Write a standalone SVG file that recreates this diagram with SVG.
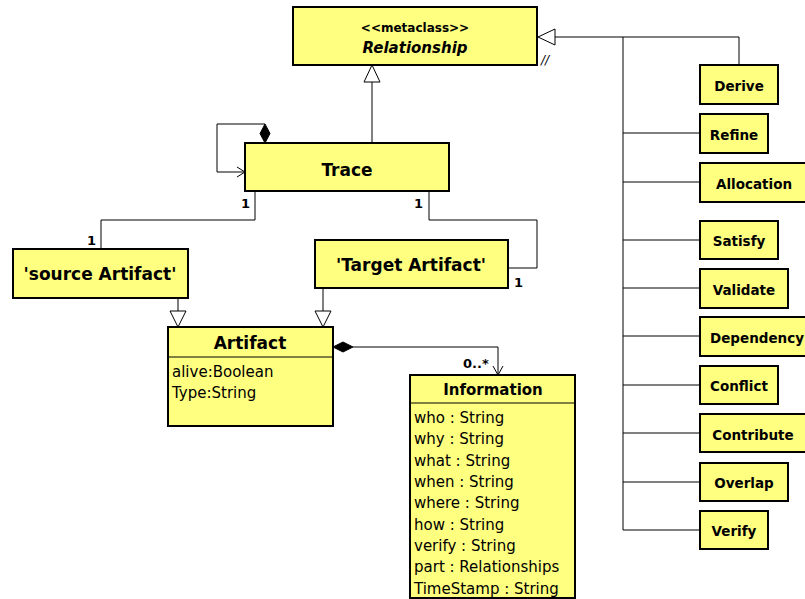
<svg xmlns="http://www.w3.org/2000/svg" width="805" height="599" viewBox="0 0 805 599">
<style>
.box{fill:#ffff80;stroke:#000;stroke-width:2}
.ln{fill:none;stroke:#000;stroke-width:1}
.tri{fill:#fff;stroke:#000;stroke-width:1}
.dia{fill:#000;stroke:#000;stroke-width:1}
text{font-family:"DejaVu Sans",Verdana,sans-serif;fill:#000}
.b{font-weight:bold}
.c{text-anchor:middle}
.lbl{font-weight:bold;font-size:13.5px;text-anchor:middle}
.attr{font-size:15px}
.m{font-weight:bold;font-size:13px}
</style>
<rect width="805" height="599" fill="#fff"/>
<g id="connectors">
<path class="ln" d="M372,82 V143"/>
<path class="ln" d="M555,37 H739 V65"/>
<path class="ln" d="M623,37 V530"/>
<path class="ln" d="M623,133 H700 M623,182 H700 M623,240 H700 M623,288 H700 M623,336 H700 M623,385 H700 M623,433 H700 M623,482 H700 M623,530 H700"/>
<path class="ln" d="M265,124 H217 V172 H245 M237,167 L245,172 L237,177"/>
<path class="ln" d="M255,191 V220 H101 V249"/>
<path class="ln" d="M429,191 V220 H537 V268 H508"/>
<path class="ln" d="M178,298 V311 M323,288 V311"/>
<path class="ln" d="M353,347 H498 V375 M493,366 L498,375 L503,366"/>
<polygon class="tri" points="538,37 555,29 555,45"/>
<polygon class="tri" points="372,65 364,82 380,82"/>
<polygon class="tri" points="178,327 170,311 186,311"/>
<polygon class="tri" points="323,327 315,311 331,311"/>
<polygon class="dia" points="265,124 270,133.5 265,143 260,133.5"/>
<polygon class="dia" points="333,347 343,342 353,347 343,352"/>
<text x="541" y="64" font-size="12" font-style="italic">//</text>
<text class="m" x="241" y="208">1</text>
<text class="m" x="87" y="245">1</text>
<text class="m" x="414" y="208">1</text>
<text class="m" x="514" y="287">1</text>
<text class="m" x="463" y="368">0..*</text>
</g>
<g id="Relationship">
<rect class="box" x="293" y="7" width="244" height="58"/>
<text class="b c" x="415" y="32" font-size="12">&lt;&lt;metaclass&gt;&gt;</text>
<text class="b c" x="415" y="53" font-size="15" font-style="italic">Relationship</text>
</g>
<g id="Trace">
<rect class="box" x="245" y="143" width="204" height="48"/>
<text class="b c" x="347" y="176" font-size="17">Trace</text>
</g>
<g id="SourceArtifact">
<rect class="box" x="13" y="249" width="175" height="49"/>
<text class="b c" x="100" y="280" font-size="17">'source Artifact'</text>
</g>
<g id="TargetArtifact">
<rect class="box" x="315" y="240" width="193" height="48"/>
<text class="b c" x="411" y="271" font-size="17">'Target Artifact'</text>
</g>
<g id="Artifact">
<rect class="box" x="168" y="327" width="165" height="99"/>
<line x1="168" y1="357" x2="333" y2="357" stroke="#000" stroke-width="1"/>
<text class="b c" x="250" y="349" font-size="17">Artifact</text>
<text class="attr" x="172" y="377">alive:Boolean</text>
<text class="attr" x="172" y="398">Type:String</text>
</g>
<g id="Information">
<rect class="box" x="410" y="375" width="165" height="223"/>
<line x1="410" y1="403" x2="575" y2="403" stroke="#000" stroke-width="1"/>
<text class="b c" x="493" y="395" font-size="15">Information</text>
<text class="attr" x="414" y="423">who : String</text>
<text class="attr" x="414" y="444">why : String</text>
<text class="attr" x="414" y="466">what : String</text>
<text class="attr" x="414" y="487">when : String</text>
<text class="attr" x="414" y="508">where : String</text>
<text class="attr" x="414" y="530">how : String</text>
<text class="attr" x="414" y="551">verify : String</text>
<text class="attr" x="414" y="572">part : Relationships</text>
<text class="attr" x="414" y="594">TimeStamp : String</text>
</g>
<g id="Derive"><rect class="box" x="700" y="65" width="78" height="39"/><text class="lbl" x="739" y="91">Derive</text></g>
<g id="Refine"><rect class="box" x="700" y="114" width="68" height="39"/><text class="lbl" x="734" y="140">Refine</text></g>
<g id="Allocation"><rect class="box" x="700" y="163" width="110" height="39"/><text class="lbl" x="754" y="189">Allocation</text></g>
<g id="Satisfy"><rect class="box" x="700" y="221" width="78" height="38"/><text class="lbl" x="739" y="246">Satisfy</text></g>
<g id="Validate"><rect class="box" x="700" y="269" width="88" height="39"/><text class="lbl" x="744" y="295">Validate</text></g>
<g id="Dependency"><rect class="box" x="700" y="317" width="112" height="39"/><text class="lbl" x="757" y="343">Dependency</text></g>
<g id="Conflict"><rect class="box" x="700" y="366" width="78" height="38"/><text class="lbl" x="739" y="391">Conflict</text></g>
<g id="Contribute"><rect class="box" x="700" y="414" width="110" height="38"/><text class="lbl" x="753" y="440">Contribute</text></g>
<g id="Overlap"><rect class="box" x="700" y="463" width="88" height="38"/><text class="lbl" x="744" y="488">Overlap</text></g>
<g id="Verify"><rect class="box" x="700" y="511" width="68" height="38"/><text class="lbl" x="734" y="536">Verify</text></g>
</svg>
